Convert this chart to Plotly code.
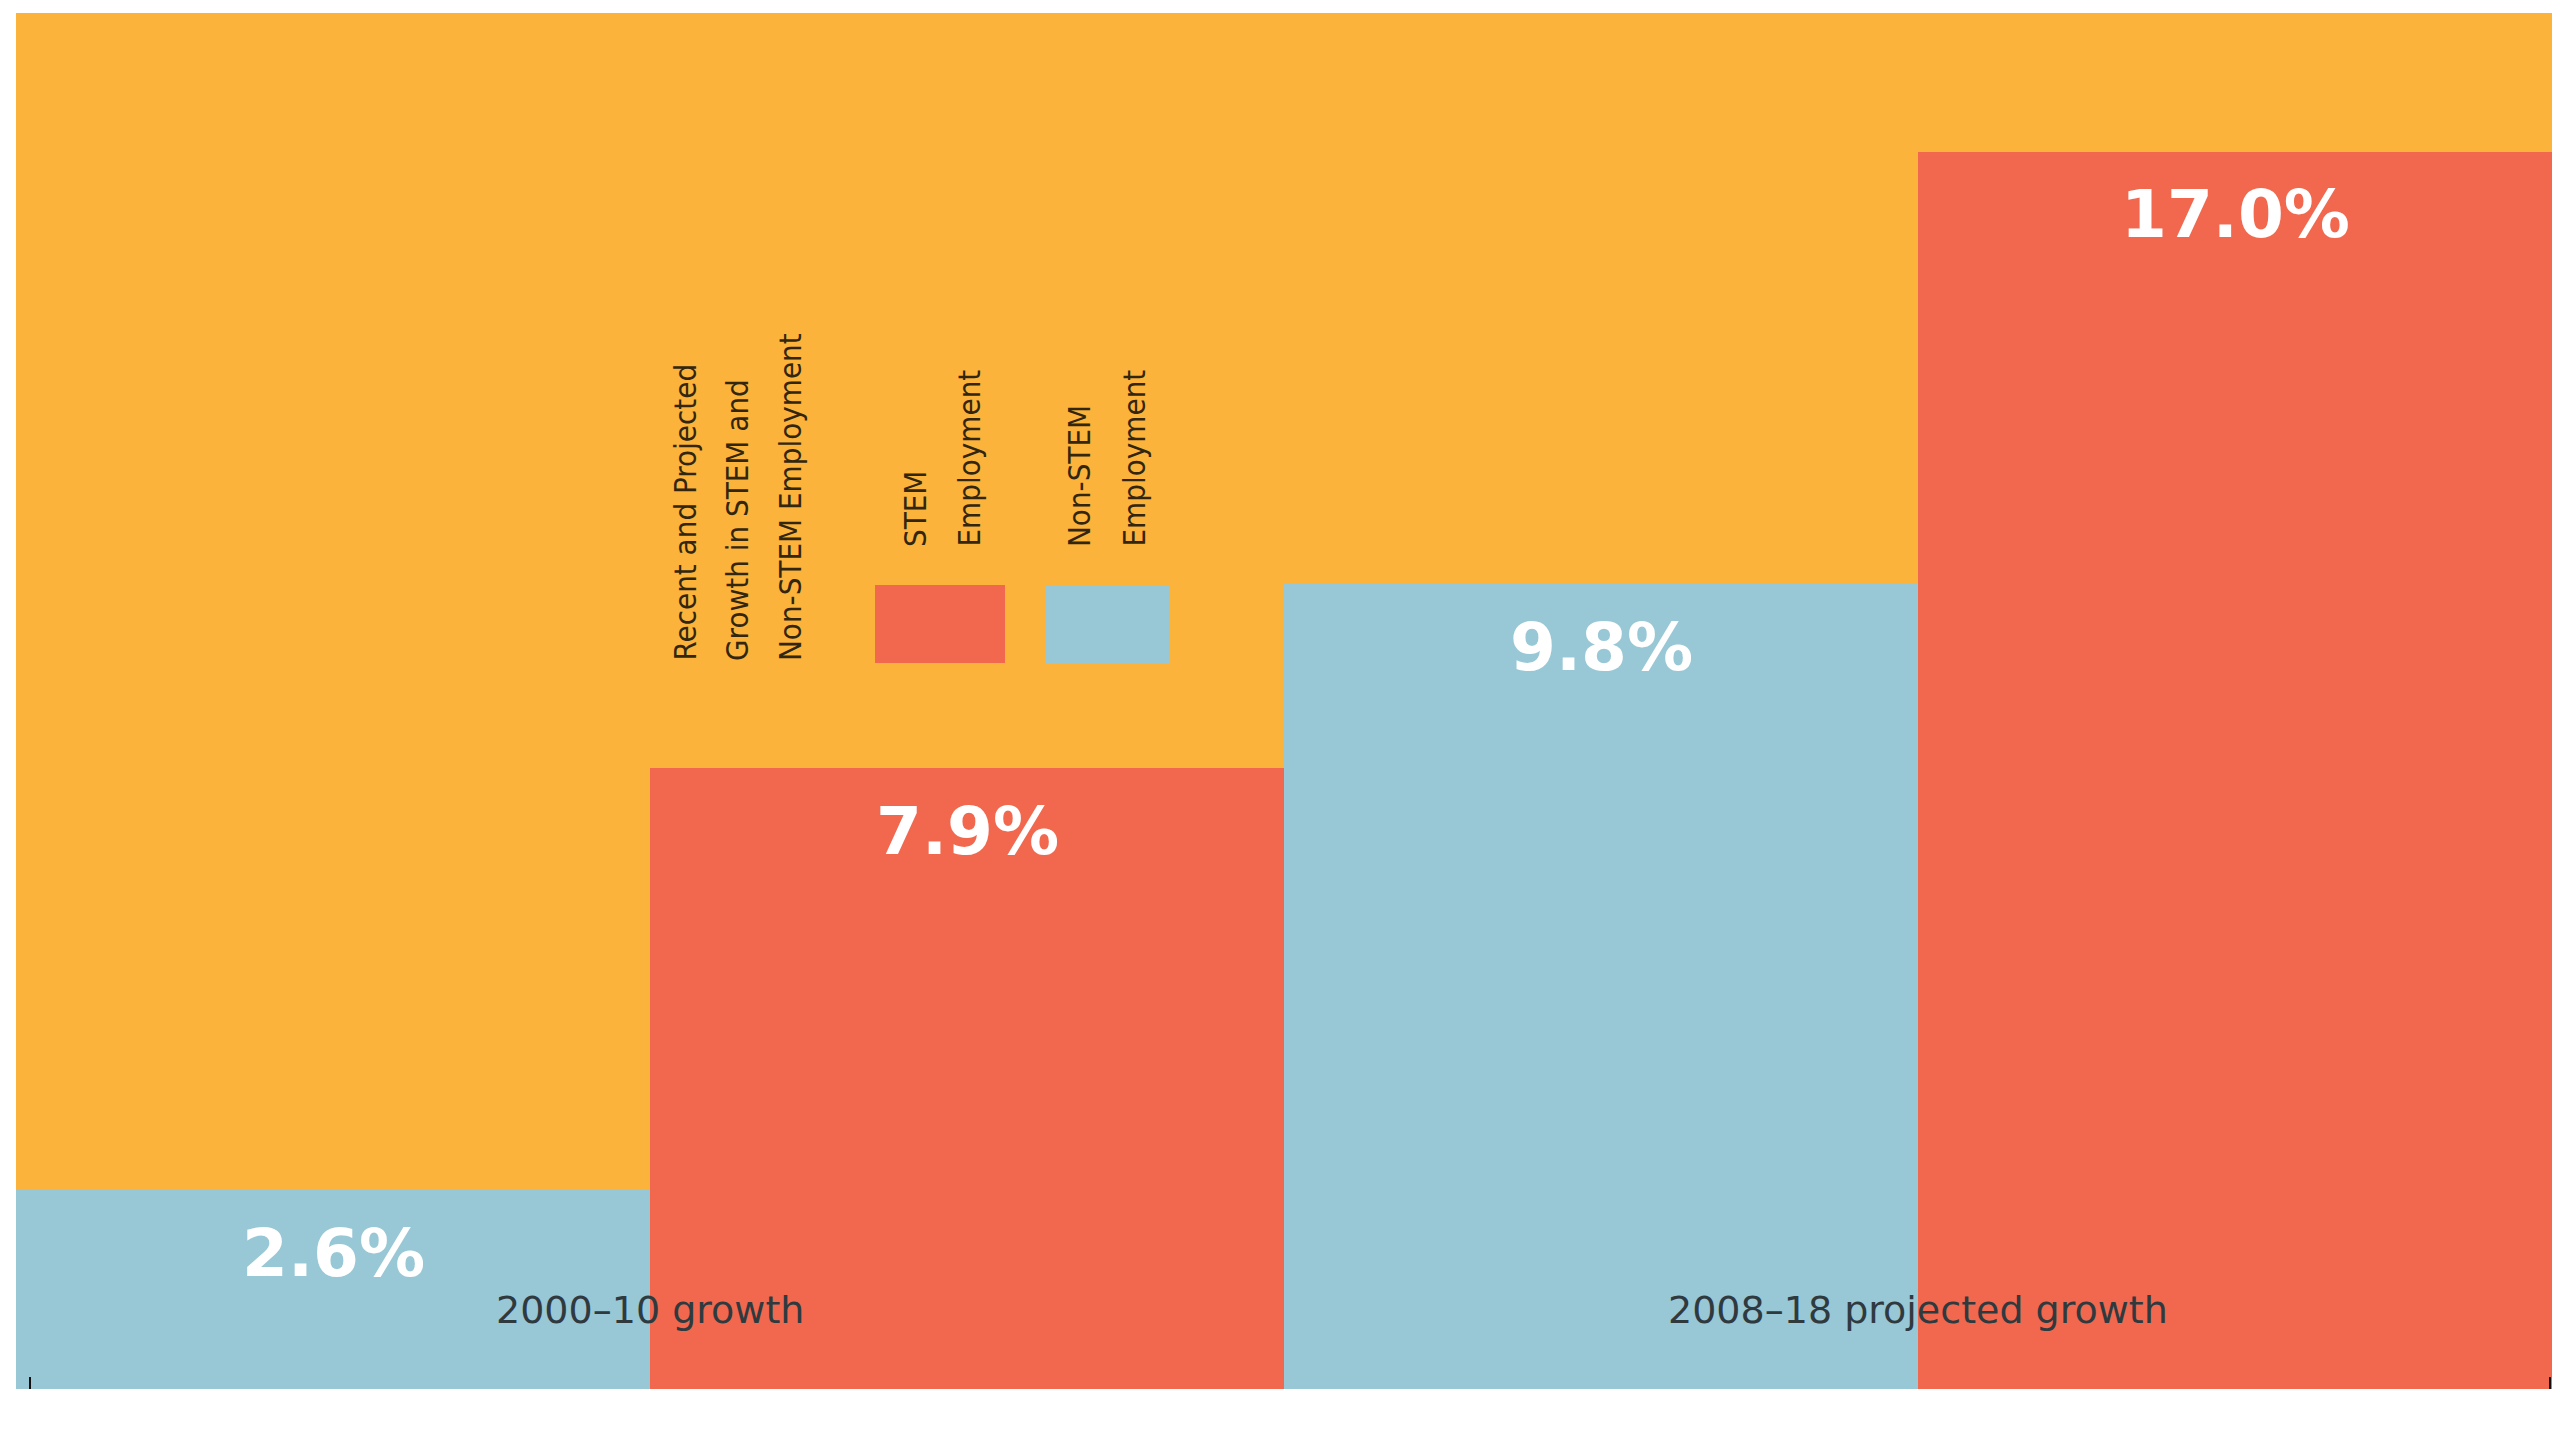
import plotly.graph_objects as go

# ---- data ----
groups = ["2000–10 growth", "2008–18 projected growth"]
series_names = ["Non-STEM Employment", "STEM Employment"]
nonstem_pct = [2.6, 9.8]          # printed labels
stem_pct = [7.9, 17.0]            # printed labels
# drawn bar heights (the infographic is not to scale)
nonstem_height = [2.73, 11.06]
stem_height = [8.53, 17.0]

title_lines = ["Recent and Projected", "Growth in STEM and", "Non-STEM Employment"]
stem_label_lines = ["STEM", "Employment"]
nonstem_label_lines = ["Non-STEM", "Employment"]

ORANGE = "#FCB33B"
RED = "#F1684F"
BLUE = "#98C7D6"
DARK = "#33260f"

W, H = 2560, 1440
ML, MR, MT, MB = 16, 8, 13, 51
PW, PH = W - ML - MR, H - MT - MB

def px_x(p):
    return (p - ML) / PW

def px_y(p):
    return (H - MB - p) / PH

fig = go.Figure()
fig.add_trace(go.Bar(name=series_names[0], x=groups, y=nonstem_height,
                     marker=dict(color=BLUE, line=dict(width=0)), hoverinfo="skip"))
fig.add_trace(go.Bar(name=series_names[1], x=groups, y=stem_height,
                     marker=dict(color=RED, line=dict(width=0)), hoverinfo="skip"))
# invisible trace so the tick-only overlay axis is drawn
fig.add_trace(go.Scatter(x=[None], y=[None], xaxis="x2", showlegend=False, hoverinfo="skip"))

ann = []
value_font = dict(family="DejaVu Sans", size=66, color="white", weight="bold")
for i in range(len(groups)):
    for offs, hts, vals in ((-0.25, nonstem_height, nonstem_pct), (0.25, stem_height, stem_pct)):
        ann.append(dict(x=i + offs, y=hts[i], xref="x", yref="y", text=f"{vals[i]:.1f}%",
                        showarrow=False, xanchor="center", yanchor="middle", yshift=-63,
                        font=value_font))
    ann.append(dict(x=i, y=0, xref="x", yref="y", text=groups[i], showarrow=False,
                    xanchor="center", yanchor="middle", yshift=79,
                    font=dict(family="DejaVu Sans", size=38, color="#2f3a3f")))

legend_font = dict(family="DejaVu Sans Condensed, sans-serif", size=31, color=DARK)
for line, xc in zip(title_lines, [685, 737, 790]):
    ann.append(dict(x=px_x(xc), y=px_y(663), xref="paper", yref="paper", text=line,
                    textangle=-90, showarrow=False, xanchor="center", yanchor="bottom",
                    font=legend_font))
for line, xc in zip(stem_label_lines, [915, 968]):
    ann.append(dict(x=px_x(xc), y=px_y(549), xref="paper", yref="paper", text=line,
                    textangle=-90, showarrow=False, xanchor="center", yanchor="bottom",
                    font=legend_font))
for line, xc in zip(nonstem_label_lines, [1079, 1133]):
    ann.append(dict(x=px_x(xc), y=px_y(549), xref="paper", yref="paper", text=line,
                    textangle=-90, showarrow=False, xanchor="center", yanchor="bottom",
                    font=legend_font))

shapes = [
    dict(type="rect", xref="paper", yref="paper", x0=px_x(875), x1=px_x(1005),
         y0=px_y(663), y1=px_y(585), fillcolor=RED, line=dict(width=0), layer="above"),
    dict(type="rect", xref="paper", yref="paper", x0=px_x(1045), x1=px_x(1169),
         y0=px_y(663), y1=px_y(585), fillcolor=BLUE, line=dict(width=0), layer="above"),
]

fig.update_layout(
    width=W, height=H,
    margin=dict(l=ML, r=MR, t=MT, b=MB, pad=0),
    paper_bgcolor="white", plot_bgcolor=ORANGE,
    barmode="group", bargap=0, bargroupgap=0,
    showlegend=False,
    annotations=ann, shapes=shapes,
    xaxis=dict(type="category", range=[-0.5, 1.5], showticklabels=False, ticks="",
               showgrid=False, zeroline=False, showline=False),
    xaxis2=dict(overlaying="x", anchor="y", side="bottom", range=[0, 1],
                tickvals=[px_x(30), px_x(2550)], ticks="inside", ticklen=12, tickwidth=2,
                tickcolor="#111111", showticklabels=False, showgrid=False,
                zeroline=False, showline=False),
    yaxis=dict(range=[0, 18.91], showticklabels=False, ticks="", showgrid=False,
               zeroline=False, showline=False),
)

fig.write_html("out.html", config={"displayModeBar": False},
               post_script="document.body.style.margin='0';document.body.style.overflow='hidden';")
